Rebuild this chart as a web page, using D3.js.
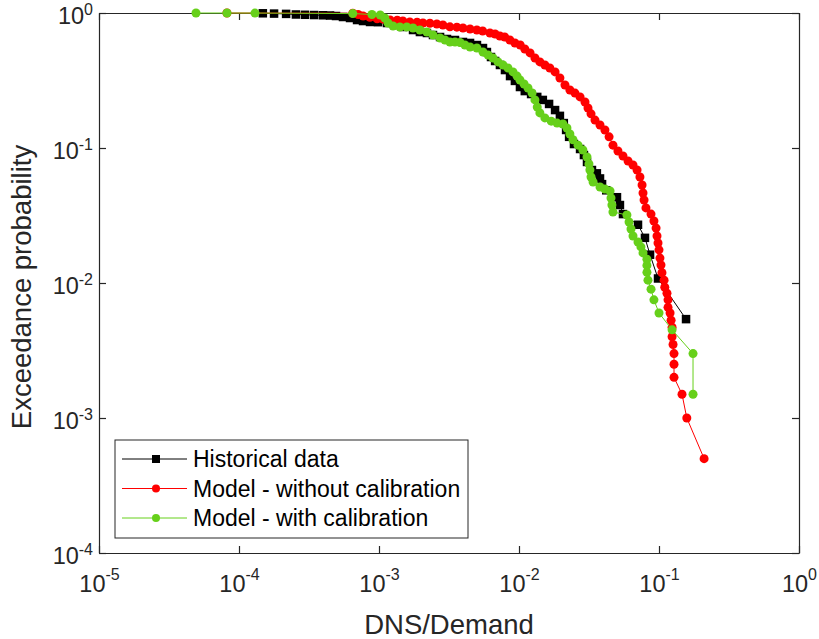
<!DOCTYPE html>
<html>
<head>
<meta charset="utf-8">
<script src="https://cdn.jsdelivr.net/npm/d3@7"></script>
<style>
  body { margin: 0; background: #fff; }
  svg { font-family: "Liberation Sans", Arial, sans-serif; }
</style>
</head>
<body>
<script>
// tick positions of both log axes
var xTicks = [1e-5, 1e-4, 1e-3, 1e-2, 1e-1, 1];
var yTicks = [1e-4, 1e-3, 1e-2, 1e-1, 1];

var seriesNames = ["Historical data", "Model - without calibration", "Model - with calibration"];

// [DNS/Demand, exceedance probability]
var histData = [
  [1.48e-4, 0.995], [1.78e-4, 0.99], [2.17e-4, 0.985], [2.55e-4, 0.975], [2.96e-4, 0.97],
  [3.44e-4, 0.966], [3.98e-4, 0.962], [4.47e-4, 0.958], [4.93e-4, 0.95], [5.53e-4, 0.934],
  [6.21e-4, 0.918], [6.97e-4, 0.887], [7.69e-4, 0.872], [8.63e-4, 0.858], [9.84e-4, 0.855],
  [1.14e-3, 0.843], [1.3e-3, 0.815], [1.48e-3, 0.788], [1.75e-3, 0.748], [1.96e-3, 0.723],
  [2.2e-3, 0.711], [2.43e-3, 0.687], [2.73e-3, 0.664], [3.06e-3, 0.642], [3.49e-3, 0.631],
  [3.98e-3, 0.61], [4.47e-3, 0.6], [5.01e-3, 0.579], [5.53e-3, 0.55], [5.9e-3, 0.514],
  [6.31e-3, 0.472], [6.75e-3, 0.441], [7.31e-3, 0.412], [7.94e-3, 0.378], [8.63e-3, 0.341],
  [9.35e-3, 0.314], [1.016e-2, 0.283], [1.1e-2, 0.264], [1.22e-2, 0.251], [1.35e-2, 0.239],
  [1.48e-2, 0.227], [1.64e-2, 0.212], [1.81e-2, 0.191], [1.96e-2, 0.173], [2.09e-2, 0.153],
  [2.17e-2, 0.136], [2.28e-2, 0.121], [2.47e-2, 0.107], [2.73e-2, 0.0983], [2.91e-2, 0.0887],
  [3.06e-2, 0.0788], [3.32e-2, 0.0687], [3.6e-2, 0.0649], [3.79e-2, 0.0595], [3.92e-2, 0.054],
  [4.2e-2, 0.0486], [5.01e-2, 0.0432], [5.26e-2, 0.0378], [5.53e-2, 0.0324], [7.08e-2, 0.027],
  [7.94e-2, 0.0216], [8.63e-2, 0.0162], [9.84e-2, 0.0108], [0.156, 0.0054]
];

var noCalData = [
  [8.2e-5, 1], [6.5e-4, 0.995], [7.1e-4, 0.975], [7.7e-4, 0.95], [8.6e-4, 0.93],
  [9.7e-4, 0.905], [1.07e-3, 0.9], [1.2e-3, 0.887], [1.35e-3, 0.885], [1.48e-3, 0.872],
  [1.66e-3, 0.858], [1.87e-3, 0.855], [2.06e-3, 0.843], [2.31e-3, 0.84], [2.59e-3, 0.829],
  [2.86e-3, 0.815], [3.21e-3, 0.79], [3.6e-3, 0.785], [3.98e-3, 0.774], [4.47e-3, 0.761],
  [5.0e-3, 0.748], [5.5e-3, 0.736], [6.2e-3, 0.711], [6.75e-3, 0.699], [7.3e-3, 0.676],
  [7.9e-3, 0.664], [8.6e-3, 0.631], [9.35e-3, 0.6], [1.02e-2, 0.579], [1.1e-2, 0.541],
  [1.2e-2, 0.506], [1.3e-2, 0.464], [1.41e-2, 0.434], [1.53e-2, 0.412], [1.66e-2, 0.391],
  [1.81e-2, 0.366], [1.96e-2, 0.33], [2.13e-2, 0.293], [2.31e-2, 0.269], [2.51e-2, 0.255],
  [2.73e-2, 0.239], [2.96e-2, 0.219], [3.11e-2, 0.198], [3.27e-2, 0.179], [3.49e-2, 0.161],
  [3.79e-2, 0.148], [4.11e-2, 0.136], [4.4e-2, 0.121], [4.69e-2, 0.105], [5.09e-2, 0.095],
  [5.53e-2, 0.0872], [6.01e-2, 0.0801], [6.52e-2, 0.0748], [6.97e-2, 0.0687], [7.31e-2, 0.061],
  [7.57e-2, 0.0532], [7.69e-2, 0.0464], [7.82e-2, 0.0412], [8.07e-2, 0.036], [8.77e-2, 0.0324],
  [9.2e-2, 0.0288], [9.53e-2, 0.0255], [9.68e-2, 0.0223], [9.84e-2, 0.0198], [0.1, 0.0176],
  [0.1016, 0.0153], [0.1033, 0.0136], [0.105, 0.0119], [0.1087, 0.0105], [0.11, 0.0093],
  [0.114, 0.0084], [0.116, 0.0075], [0.116, 0.0066], [0.12, 0.006], [0.122, 0.0053],
  [0.124, 0.0047], [0.124, 0.004], [0.126, 0.0035], [0.128, 0.003], [0.128, 0.0025],
  [0.128, 0.002], [0.146, 0.0015], [0.158, 0.001], [0.21, 0.0005]
];

var calData = [
  [4.93e-5, 1], [8.2e-5, 1], [1.3e-4, 0.999], [6.5e-4, 0.99], [8.9e-4, 0.975],
  [1.02e-3, 0.966], [1.1e-3, 0.918], [1.16e-3, 0.843], [1.26e-3, 0.801], [1.41e-3, 0.788],
  [1.58e-3, 0.788], [1.75e-3, 0.774], [1.96e-3, 0.748], [2.2e-3, 0.723], [2.43e-3, 0.687],
  [2.73e-3, 0.653], [2.96e-3, 0.631], [3.21e-3, 0.61], [3.49e-3, 0.61], [3.79e-3, 0.605],
  [4.11e-3, 0.579], [4.47e-3, 0.56], [5.0e-3, 0.55], [5.53e-3, 0.514], [6.01e-3, 0.489],
  [6.52e-3, 0.464], [7.08e-3, 0.434], [7.69e-3, 0.412], [8.34e-3, 0.391], [9.06e-3, 0.366],
  [9.68e-3, 0.341], [1.016e-2, 0.319], [1.087e-2, 0.298], [1.16e-2, 0.278], [1.24e-2, 0.255],
  [1.3e-2, 0.227], [1.35e-2, 0.201], [1.41e-2, 0.182], [1.53e-2, 0.167], [1.7e-2, 0.158],
  [1.87e-2, 0.153], [2.06e-2, 0.1505], [2.2e-2, 0.1406], [2.31e-2, 0.127], [2.43e-2, 0.115],
  [2.64e-2, 0.105], [2.86e-2, 0.0967], [3.06e-2, 0.0858], [3.16e-2, 0.0761], [3.21e-2, 0.0687],
  [3.27e-2, 0.061], [3.38e-2, 0.056], [3.79e-2, 0.0514], [4.11e-2, 0.0497], [4.47e-2, 0.048],
  [4.54e-2, 0.0426], [4.61e-2, 0.0378], [4.69e-2, 0.0336], [5.9e-2, 0.0319], [6.11e-2, 0.0283],
  [6.31e-2, 0.0251], [6.52e-2, 0.0223], [7.08e-2, 0.0201], [7.43e-2, 0.0185], [7.69e-2, 0.0167],
  [8.2e-2, 0.015], [8.2e-2, 0.0135], [8.2e-2, 0.012], [8.34e-2, 0.0105], [8.77e-2, 0.009],
  [9.2e-2, 0.0075], [0.1, 0.006], [0.124, 0.0045], [0.175, 0.003], [0.175, 0.0015]
];

var svgwidth = 819,
    svgheight = 639,
    margin = {top: 13, right: 20, bottom: 86, left: 99},
    width = svgwidth - margin.left - margin.right,
    height = svgheight - margin.top - margin.bottom;

var axisColor = "#262626";

var svg = d3.select("body").append("svg")
    .attr("width", svgwidth)
    .attr("height", svgheight);

var g = svg.append("g")
    .attr("transform", "translate(" + margin.left + "," + margin.top + ")");

var x = d3.scaleLog().domain([1e-5, 1]).range([0, width]),
    y = d3.scaleLog().domain([1e-4, 1]).range([height, 0]);

// "10" with the exponent raised
function powerLabel(sel, v, supDy) {
  var e = Math.round(Math.log10(v));
  sel.text(null);
  sel.append("tspan").text("10");
  sel.append("tspan")
    .attr("dy", supDy)
    .style("font-size", "16px")
    .text(e < 0 ? "-" + (-e) : e);
}

// axes, ticks pointing inwards like MATLAB
var xAxis = g.append("g")
    .attr("transform", "translate(0," + height + ")")
    .call(d3.axisBottom(x).tickValues(xTicks).tickSizeInner(-7).tickSizeOuter(0).tickPadding(0));
xAxis.selectAll(".tick text")
    .attr("y", 39)
    .attr("dy", null)
    .attr("text-anchor", "middle")
    .style("font-size", "23.5px")
    .each(function(d) { powerLabel(d3.select(this), d, -12); });

var yAxis = g.append("g")
    .call(d3.axisLeft(y).tickValues(yTicks).tickSizeInner(-7).tickSizeOuter(0).tickPadding(0));
yAxis.selectAll(".tick text")
    .attr("x", -6)
    .attr("dy", null)
    .attr("y", 10)
    .attr("text-anchor", "end")
    .style("font-size", "23.5px")
    .each(function(d) { powerLabel(d3.select(this), d, -9); });

g.append("g")
    .call(d3.axisTop(x).tickValues(xTicks).tickSizeInner(-7).tickSizeOuter(0).tickFormat(""));
g.append("g")
    .attr("transform", "translate(" + width + ",0)")
    .call(d3.axisRight(y).tickValues(yTicks).tickSizeInner(-7).tickSizeOuter(0).tickFormat(""));

g.selectAll(".domain, .tick line").attr("stroke", axisColor).attr("stroke-width", 1.2);
g.selectAll(".tick text").attr("fill", axisColor).attr("font-family", null);

// axis labels
svg.append("text")
    .attr("x", margin.left + width / 2)
    .attr("y", 634)
    .attr("text-anchor", "middle")
    .attr("fill", axisColor)
    .style("font-size", "27.5px")
    .text("DNS/Demand");

svg.append("text")
    .attr("transform", "translate(31," + (margin.top + height / 2 + 4) + ") rotate(-90)")
    .attr("text-anchor", "middle")
    .attr("fill", axisColor)
    .style("font-size", "27.5px")
    .text("Exceedance probability");

// series
var line = d3.line()
    .x(function(d) { return x(d[0]); })
    .y(function(d) { return y(d[1]); });

var series = [
  {data: histData, color: "#000000", marker: "square"},
  {data: noCalData, color: "#ff0000", marker: "circle"},
  {data: calData, color: "#66d01a", marker: "circle"}
];

series.forEach(function(s) {
  g.append("path")
    .datum(s.data)
    .attr("fill", "none")
    .attr("stroke", s.color)
    .attr("stroke-width", 1)
    .attr("d", line);

  if (s.marker == "square") {
    g.selectAll(null)
      .data(s.data)
      .enter().append("rect")
        .attr("x", function(d) { return x(d[0]) - 4.25; })
        .attr("y", function(d) { return y(d[1]) - 4.25; })
        .attr("width", 8.5)
        .attr("height", 8.5)
        .attr("fill", s.color);
  } else {
    g.selectAll(null)
      .data(s.data)
      .enter().append("circle")
        .attr("cx", function(d) { return x(d[0]); })
        .attr("cy", function(d) { return y(d[1]); })
        .attr("r", 4.5)
        .attr("fill", s.color);
  }
});

// legend
var legend = svg.append("g").attr("transform", "translate(115,440)");
legend.append("rect")
    .attr("width", 353)
    .attr("height", 98)
    .attr("fill", "#fff")
    .attr("stroke", axisColor)
    .attr("stroke-width", 1);

var rows = legend.selectAll(".row")
    .data(series)
    .enter().append("g")
      .attr("class", "row")
      .attr("transform", function(d, i) { return "translate(0," + (19 + i * 29.5) + ")"; });

rows.append("line")
    .attr("x1", 7).attr("x2", 72)
    .attr("stroke", function(d) { return d.color; })
    .attr("stroke-width", 1);

rows.each(function(d) {
  var r = d3.select(this);
  if (d.marker == "square") {
    r.append("rect").attr("x", 37).attr("y", -4).attr("width", 8).attr("height", 8).attr("fill", d.color);
  } else {
    r.append("circle").attr("cx", 41).attr("r", 4).attr("fill", d.color);
  }
});

rows.append("text")
    .attr("x", 78)
    .attr("y", 8)
    .attr("fill", "#000")
    .style("font-size", "23px")
    .text(function(d, i) { return seriesNames[i]; });
</script>
</body>
</html>
